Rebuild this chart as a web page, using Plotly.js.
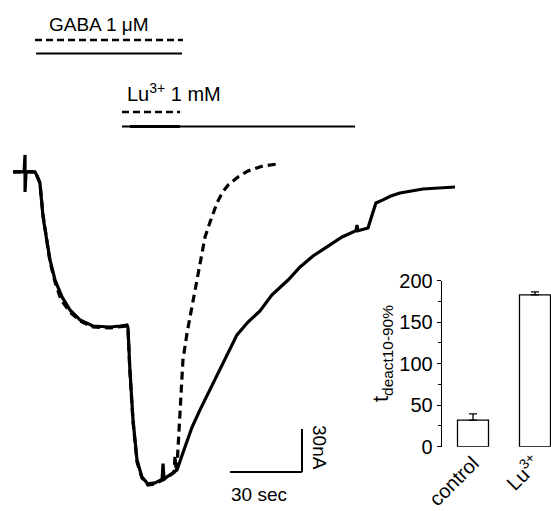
<!DOCTYPE html>
<html>
<head>
<meta charset="utf-8">
<script src="https://cdn.plot.ly/plotly-3.0.1.min.js"></script>
<style>html,body{margin:0;padding:0;background:#fff;}#chart{width:551px;height:511px;}</style>
</head>
<body>
<div id="chart"></div>
<script>
// Current traces (time in s, current in nA, baseline = 0)
var solidT = [-0.4, 4.2, 4.6, 4.6, 5.0, 8.75, 9.6, 10.8, 12.1, 13.75, 15, 17.1, 20, 23.3, 27.5, 32.9, 40, 44.2, 47.1, 47.5, 48.3, 49.6, 51.25, 53.3, 55.8, 58.75, 61.7, 62.1, 62.5, 63.75, 67.9, 70.4, 74.2, 77.5, 81.7, 87.1, 92.9, 97.5, 102.5, 107.5, 114.2, 119.2, 124.6, 130.4, 136.7, 142.5, 142.9, 143.3, 147.5, 149.2, 150.8, 153.75, 157.0, 160.8, 170.4, 183.75];
var solidI = [0, 0, 11.9, -14, 0, 0, -2.8, -7.7, -31.4, -47.5, -61.4, -75.4, -87.2, -96.3, -103.3, -107.5, -108.2, -107.5, -106.8, -108.9, -138.2, -173.1, -201, -212.8, -217.7, -217, -214.5, -203.6, -214.2, -212.8, -208, -196, -178, -166, -152, -133.3, -113.7, -104.7, -97, -85.8, -75.4, -66.3, -58.6, -52.3, -45.4, -41, -37, -41, -39.1, -30, -21.6, -19.5, -16.8, -14.7, -11.9, -10.5];
var dashT = [-0.4, 8.75, 9.6, 10.8, 12.1, 13.75, 15, 17.1, 19.6, 23.3, 27.5, 32.9, 40, 46.7, 47.5, 48.3, 49.6, 51.25, 53.3, 55.8, 58.75, 62.9, 66.7, 67.1, 67.5, 67.9, 69.2, 70.4, 72.1, 74.2, 75.8, 77.9, 79.6, 81.7, 84.6, 86.7, 89.2, 93.3, 97.5, 103.75, 110];
var dashI = [0, 0, -2.8, -7.7, -30, -47.5, -62.8, -76.8, -89.3, -97.7, -104, -108.2, -108.9, -107.5, -110.3, -139.6, -174.5, -202.4, -213.5, -218.4, -217.7, -214.2, -209.7, -198, -209, -205.9, -166.1, -131.2, -112.4, -94.2, -77.5, -59.3, -45.4, -34.9, -21.6, -14.7, -9.1, -3.5, 0.7, 4.2, 5.6];

// Drug application intervals (s)
var gabaDashed = [8.75, 70.4];
var gabaSolid = [9.2, 70.0];
var luDashed = [45.0, 69.2];
var luSolid = [45.0, 142.1];
var luSolidOverlap = [48.3, 69.2];

// Scale bar (30 s, 30 nA)
var scaleOrigin = [90, -209.4];
var scaleSec = 30;
var scaleNA = 30;

// Inset bar chart
var barCats = ['control', 'Lu<sup>3+</sup>'];
var barVals = [32, 183];
var barErr = [7.5, 3.5];

var font = "'Liberation Sans', Arial, Helvetica, sans-serif";

var traces = [
  {x: dashT, y: dashI, type: 'scatter', mode: 'lines', xaxis: 'x', yaxis: 'y',
   line: {color: '#000', width: 3.2, dash: '8px,5px'}, hoverinfo: 'skip'},
  {x: solidT, y: solidI, type: 'scatter', mode: 'lines', xaxis: 'x', yaxis: 'y',
   line: {color: '#000', width: 3.2}, hoverinfo: 'skip'},
  {x: barCats, y: barVals, type: 'bar', xaxis: 'x2', yaxis: 'y2', width: 0.5,
   marker: {color: '#fff', line: {color: '#000', width: 1.3}},
   error_y: {type: 'data', array: barErr, arrayminus: [0, 0], symmetric: false,
             color: '#000', thickness: 1.3, width: 4}, hoverinfo: 'skip'}
];

function hline(x0, x1, yp, w, dash) {
  return {type: 'line', xref: 'x', yref: 'paper', x0: x0, x1: x1, y0: yp, y1: yp,
          line: {color: '#000', width: w, dash: dash || 'solid'}};
}
var H = 511;
var shapes = [
  hline(gabaDashed[0], gabaDashed[1], 1 - 40 / H, 2.7, '7px,4px'),
  hline(gabaSolid[0], gabaSolid[1], 1 - 53.5 / H, 2),
  hline(luDashed[0], luDashed[1], 1 - 112 / H, 2.7, '7px,4px'),
  hline(luSolid[0], luSolid[1], 1 - 126.5 / H, 2),
  hline(luSolidOverlap[0], luSolidOverlap[1], 1 - 126.5 / H, 3),
  {type: 'line', xref: 'x', yref: 'y', x0: scaleOrigin[0], x1: scaleOrigin[0] + scaleSec,
   y0: scaleOrigin[1], y1: scaleOrigin[1], line: {color: '#000', width: 2}},
  {type: 'line', xref: 'x', yref: 'y', x0: scaleOrigin[0] + scaleSec, x1: scaleOrigin[0] + scaleSec,
   y0: scaleOrigin[1], y1: scaleOrigin[1] + scaleNA, line: {color: '#000', width: 2}}
];

function ann(text, xpx, ypx, size, opts) {
  var a = {text: text, xref: 'paper', yref: 'paper', x: xpx / 551, y: 1 - ypx / H,
           showarrow: false, font: {family: font, size: size, color: '#000'},
           xanchor: 'center', yanchor: 'middle'};
  for (var k in opts) a[k] = opts[k];
  return a;
}

var annotations = [
  ann('GABA 1 \u03bcM', 47, 24, 19, {xanchor: 'left'}),
  ann('Lu<sup>3+</sup> 1 mM', 174, 93, 20),
  ann('30 sec', 259, 494, 19),
  ann('30nA', 320, 447, 19, {textangle: 90}),
  ann('t<sub>deact10-90%</sub>', 382, 354, 22, {textangle: -90})
];

var layout = {
  width: 551, height: 511,
  margin: {l: 0, r: 0, t: 0, b: 0, pad: 0},
  paper_bgcolor: '#fff', plot_bgcolor: 'rgba(0,0,0,0)',
  showlegend: false,
  font: {family: font, color: '#000'},
  xaxis: {domain: [0, 1], range: [-5.833, 223.75], visible: false, fixedrange: true},
  yaxis: {domain: [0, 1], range: [-236.6, 120], visible: false, fixedrange: true},
  xaxis2: {domain: [442 / 551, 1], anchor: 'y2', type: 'category', range: [-0.5, 1.258],
           showline: false, ticks: '', showgrid: false, zeroline: false, tickangle: -45,
           tickfont: {family: font, size: 20, color: '#000'}},
  yaxis2: {domain: [(H - 446.7) / H, (H - 280.7) / H], anchor: 'x2', range: [0, 200],
           showline: true, linecolor: '#000', linewidth: 1.3, ticks: 'outside', ticklen: 4,
           tickwidth: 1, tickcolor: '#000', dtick: 50, showgrid: false, zeroline: false,
           minor: {dtick: 25, ticks: 'outside', ticklen: 3, tickcolor: '#000', tickwidth: 1, showgrid: false},
           tickfont: {family: font, size: 20, color: '#000'}},
  shapes: shapes,
  annotations: annotations,
  bargap: 0.5
};

Plotly.newPlot('chart', traces, layout, {displayModeBar: false, staticPlot: true});
</script>
</body>
</html>
